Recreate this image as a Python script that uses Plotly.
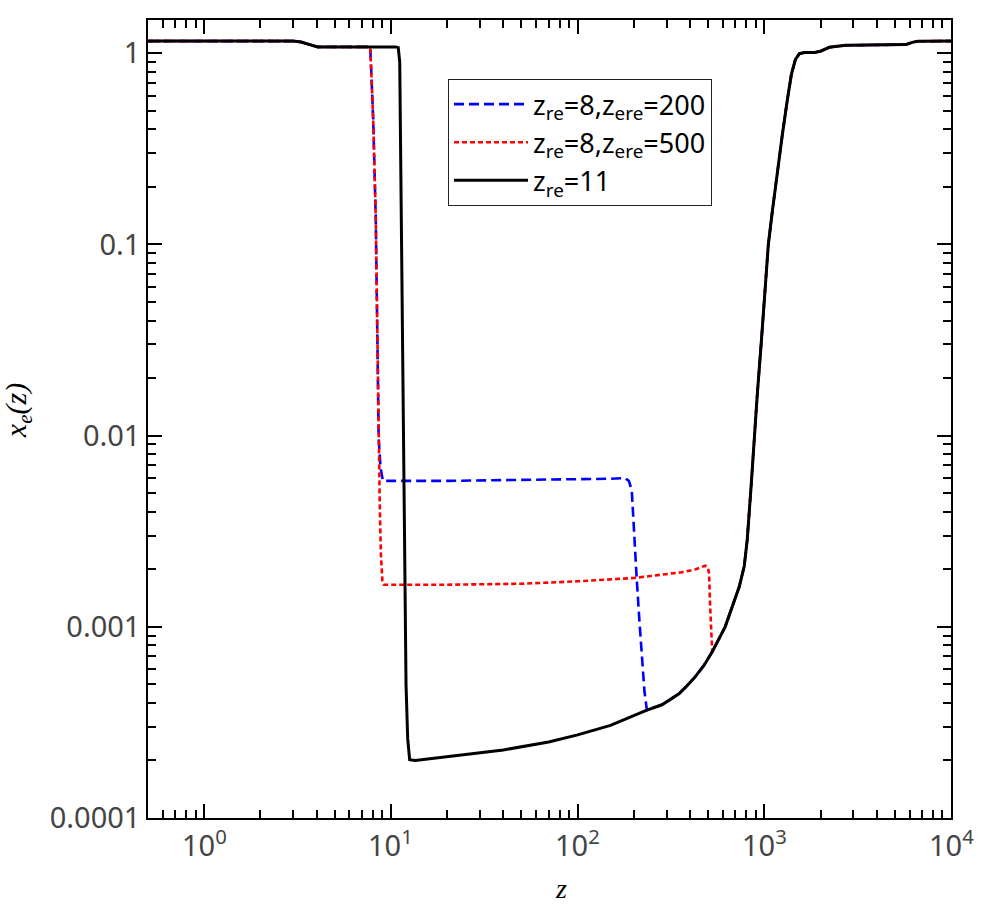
import math
import plotly.graph_objects as go

# ---------------- data ----------------
z_black = [0.5, 3.0, 3.3, 3.6, 4.05, 10.6, 10.95, 11.15, 11.25, 11.4, 11.7, 11.9,
           12.05, 12.3, 12.6, 13.5, 20, 40, 70, 100, 150, 188, 235, 283, 312, 349,
           385, 426, 476, 526, 617, 681, 734, 781, 810, 851, 883, 917, 964, 1000,
           1051, 1104, 1175, 1250, 1330, 1397, 1468, 1542, 1641, 1858, 2000, 2230,
           2725, 5030, 5730, 6200, 6650, 10000]
xe_black = [1.158, 1.158, 1.145, 1.115, 1.08, 1.08, 1.07, 0.9, 0.4, 0.1, 0.01, 0.002,
            5e-4, 2.6e-4, 2.02e-4, 2.0e-4, 2.1e-4, 2.27e-4, 2.5e-4, 2.72e-4, 3.05e-4,
            3.34e-4, 3.67e-4, 3.91e-4, 4.15e-4, 4.46e-4, 4.91e-4, 5.47e-4, 6.3e-4,
            7.4e-4, 1.0e-3, 1.30e-3, 1.62e-3, 2.08e-3, 2.85e-3, 5.54e-3, 9.9e-3,
            0.0164, 0.031, 0.0515, 0.1, 0.149, 0.241, 0.377, 0.574, 0.776, 0.93,
            0.995, 1.01, 1.01, 1.025, 1.075, 1.10, 1.10, 1.11, 1.14, 1.156, 1.158]

z_blue = [0.5, 3.0, 3.3, 3.6, 4.05, 7.6, 7.75, 7.85, 8.04, 8.3, 8.46, 8.6, 8.8, 9.06,
          20, 50, 100, 150, 179, 188, 195, 200, 207, 214, 221, 228, 235]
xe_blue = [1.158, 1.158, 1.145, 1.115, 1.08, 1.08, 1.07, 0.8, 0.45, 0.135, 0.03,
           0.0097, 0.0068, 0.0058, 0.0058, 0.00585, 0.0059, 0.00595, 0.0060, 0.0058,
           0.0052, 0.0032, 0.00183, 0.0011, 6.7e-4, 4.6e-4, 3.67e-4]

z_red = [0.5, 3.0, 3.3, 3.6, 4.05, 7.6, 7.75, 7.85, 8.04, 8.3, 8.46, 8.6, 8.72, 8.84,
         9.0, 9.17, 20, 50, 100, 200, 283, 362, 430, 482, 498, 506, 513, 520, 526]
xe_red = [1.158, 1.158, 1.145, 1.115, 1.08, 1.08, 1.07, 0.8, 0.45, 0.135, 0.03,
          0.009, 0.0042, 0.0024, 0.00175, 0.00166, 0.00166, 0.00168, 0.00173, 0.0018,
          0.00187, 0.00193, 0.0020, 0.00209, 0.00205, 0.0019, 0.00127, 0.0009, 7.4e-4]

x_tickvals = [1, 10, 100, 1000, 10000]
x_ticktext = ["10<sup>0</sup>", "10<sup>1</sup>", "10<sup>2</sup>", "10<sup>3</sup>", "10<sup>4</sup>"]
y_tickvals = [1e-4, 1e-3, 1e-2, 1e-1, 1]
y_ticktext = ["0.0001", "0.001", "0.01", "0.1", "1"]

names = ["z<sub>re</sub>=8,z<sub>ere</sub>=200",
         "z<sub>re</sub>=8,z<sub>ere</sub>=500",
         "z<sub>re</sub>=11"]


def tail_after(z_end):
    zz = [z for z in z_black if z > z_end]
    xx = [x for z, x in zip(z_black, xe_black) if z > z_end]
    return zz, xx


bz, bx = tail_after(z_blue[-1])
rz, rx = tail_after(z_red[-1])

fig = go.Figure()
fig.add_trace(go.Scatter(x=z_blue + bz, y=xe_blue + bx, mode="lines", name=names[0],
                         line=dict(color="#0000ff", width=2.6, dash="10px,5px")))
fig.add_trace(go.Scatter(x=z_red + rz, y=xe_red + rx, mode="lines", name=names[1],
                         line=dict(color="#ff0000", width=2.6, dash="5px,3px")))
fig.add_trace(go.Scatter(x=z_black, y=xe_black, mode="lines", name=names[2],
                         line=dict(color="#000000", width=3)))

# minor tick positions
x_minor = []
for d in range(-1, 4):
    for m in range(2, 10):
        v = m * 10 ** d
        if 0.5 < v < 10000:
            x_minor.append(v)
y_minor = []
for d in range(-4, 0):
    for m in range(2, 10):
        y_minor.append(m * 10 ** d)

tickfont = dict(family="Noto Sans", size=29, color="#444444")

fig.update_xaxes(type="log", range=[math.log10(0.5), 4], tickmode="array",
                 tickvals=x_tickvals, showticklabels=False,
                 ticks="inside", ticklen=14, tickwidth=1.5, tickcolor="black",
                 showline=True, linecolor="black", linewidth=1.5, mirror="ticks",
                 showgrid=False, zeroline=False,
                 minor=dict(tickmode="array", tickvals=x_minor, ticks="inside",
                            ticklen=8, tickwidth=1.5, tickcolor="black", showgrid=False))
fig.update_yaxes(type="log", range=[-4, 0.174], tickmode="array",
                 tickvals=y_tickvals, ticktext=y_ticktext, tickfont=tickfont,
                 ticks="inside", ticklen=14, tickwidth=1.5, tickcolor="black",
                 showline=True, linecolor="black", linewidth=1.5, mirror="ticks",
                 showgrid=False, zeroline=False,
                 minor=dict(tickmode="array", tickvals=y_minor, ticks="inside",
                            ticklen=8, tickwidth=1.5, tickcolor="black", showgrid=False))

# x tick labels placed as text under each major tick (through the x scale)
tick_annots = [
    dict(text=t, x=math.log10(v), xref="x", y=-0.031, yref="paper",
         xanchor="center", yanchor="middle", showarrow=False, font=tickfont)
    for v, t in zip(x_tickvals, x_ticktext)
]

fig.update_layout(
    width=990, height=905,
    margin=dict(l=148, r=39, t=20, b=87),
    plot_bgcolor="white", paper_bgcolor="white",
    showlegend=True,
    legend=dict(x=0.3736, y=0.926, xanchor="left", yanchor="top",
                bgcolor="white", bordercolor="#222222", borderwidth=1,
                font=dict(family="Noto Sans", size=27, color="black"),
                itemwidth=74, tracegroupgap=0),
    annotations=tick_annots + [
        dict(text="<i>z</i>", xref="paper", yref="paper", x=0.5137, y=-0.088,
             xanchor="center", yanchor="middle", showarrow=False,
             font=dict(family="Liberation Serif", size=28, color="black")),
        dict(text="<i>x<sub>e</sub>(z)</i>", xref="paper", yref="paper", x=-0.162, y=0.511,
             xanchor="center", yanchor="middle", showarrow=False, textangle=-90,
             font=dict(family="Liberation Serif", size=30, color="black")),
    ],
)

fig.write_html("out.html")
